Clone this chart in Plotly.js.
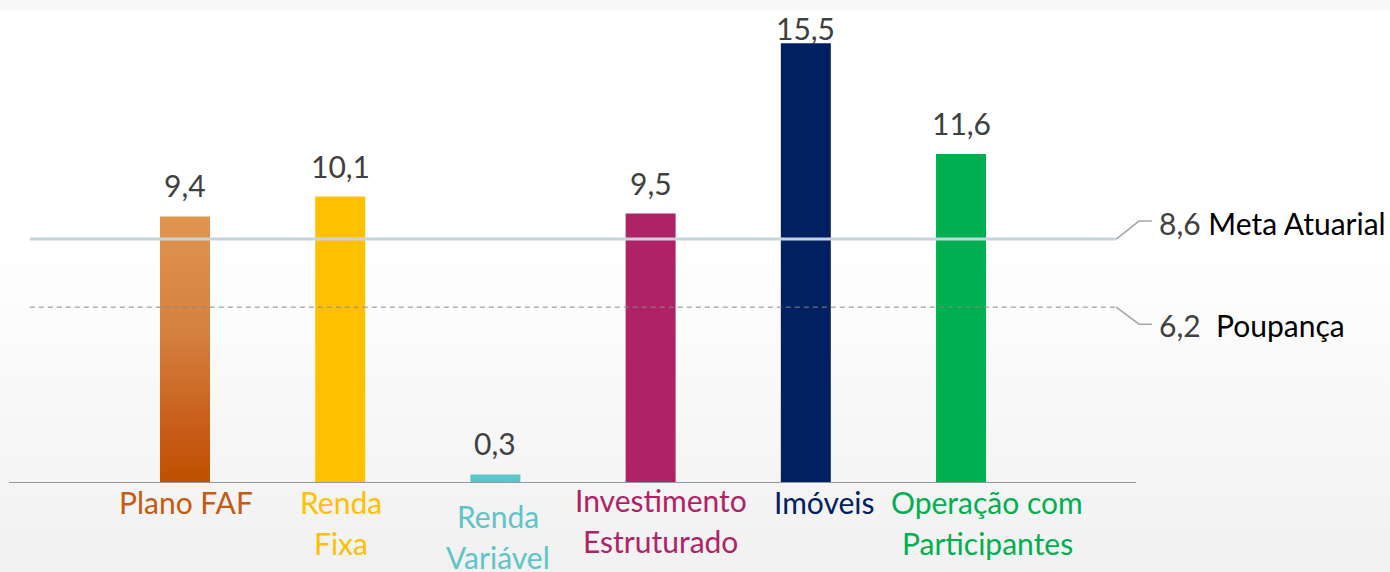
<!DOCTYPE html>
<html>
<head>
<meta charset="utf-8">
<script src="https://cdn.plot.ly/plotly-3.0.1.min.js"></script>
<style>
  html, body { margin: 0; padding: 0; }
  #chart {
    width: 1390px; height: 572px;
    background: linear-gradient(to bottom, #f9f9f9 0px, #f9f9f9 10px, #ffffff 11px, #ffffff 240px, #f3f3f3 520px, #f1f1f1 572px);
  }
</style>
</head>
<body>
<div id="chart"></div>
<script>
// ---- data ----
const categories = ['Plano FAF', 'Renda Fixa', 'Renda Variável', 'Investimento Estruturado', 'Imóveis', 'Operação com Participantes'];
const categoryLines = [['Plano FAF'], ['Renda', 'Fixa'], ['Renda', 'Variável'], ['Investimento', 'Estruturado'], ['Imóveis'], ['Operação com', 'Participantes']];
const values = [9.4, 10.1, 0.3, 9.5, 15.5, 11.6];
const barColors = ['#d4783a', '#ffc000', '#5ec4c8', '#b02266', '#002060', '#00b050'];
const labelColors = ['#c55a11', '#ffc000', '#5ec4c8', '#b02266', '#002060', '#00b050'];
const metaAtuarial = 8.6;
const metaLabel = 'Meta Atuarial';
const poupanca = 6.2;
const poupancaLabel = 'Poupança';

// ---- layout helpers ----
const FONT = 'Lato, "Open Sans", sans-serif';
const FS = 30;
const yMax = 16.5, plotTop = 15, plotBottom = 89, H = 572;
const pxPerUnit = (H - plotTop - plotBottom) / yMax;
const labelXShift = [1, 1, 3, 10, 19, 26];
const labelFirstLineY = [19, 19, 33, 17, 19, 19];
const lineGap = 41;
const fmt = v => v.toFixed(1).replace('.', ',');

const trace = {
  type: 'bar',
  x: categories,
  y: values,
  width: 0.322,
  marker: { color: barColors, line: { width: 0 } },
  hoverinfo: 'skip'
};

const annotations = [];
// value labels
values.forEach((v, i) => {
  const yv = Math.min(v + 31 / pxPerUnit, (H - plotBottom - 28) / pxPerUnit);
  annotations.push({
    x: categories[i], y: yv, xref: 'x', yref: 'y',
    text: fmt(v), showarrow: false, xanchor: 'center', yanchor: 'middle',
    font: { family: FONT, size: FS, color: '#404040' }
  });
});
// category labels
categoryLines.forEach((lines, i) => {
  lines.forEach((ln, j) => {
    annotations.push({
      x: categories[i], y: 0, xref: 'x', yref: 'y',
      xshift: labelXShift[i], yshift: -(labelFirstLineY[i] + j * lineGap),
      text: ln, showarrow: false, xanchor: 'center', yanchor: 'middle',
      font: { family: FONT, size: FS, color: labelColors[i] }
    });
  });
});

const lineEnd = 6.0, lineStart = -1.0;
const leadMid = 6.147, leadEnd = 6.23;
const metaLeadY = metaAtuarial + 18 / pxPerUnit;
const poupLeadY = poupanca - 17 / pxPerUnit;

annotations.push({
  x: leadEnd, y: metaAtuarial + 16 / pxPerUnit, xref: 'x', yref: 'y', xshift: 5,
  text: '<span style="color:#404040">' + fmt(metaAtuarial) + '</span> <span style="color:#000000">' + metaLabel + '</span>',
  showarrow: false, xanchor: 'left', yanchor: 'middle',
  font: { family: FONT, size: FS, color: '#000' }
});
annotations.push({
  x: leadEnd, y: poupanca - 18 / pxPerUnit, xref: 'x', yref: 'y', xshift: 5,
  text: '<span style="color:#404040">' + fmt(poupanca) + '</span>  <span style="color:#000000">' + poupancaLabel + '</span>',
  showarrow: false, xanchor: 'left', yanchor: 'middle',
  font: { family: FONT, size: FS, color: '#000' }
});

const shapes = [
  // baseline axis
  { type: 'line', xref: 'x', yref: 'y', x0: -1.134, x1: 6.128, y0: 0, y1: 0, line: { color: '#8f9aa3', width: 2 }, layer: 'above' },
  // meta atuarial line
  { type: 'line', xref: 'x', yref: 'y', x0: lineStart, x1: lineEnd, y0: metaAtuarial, y1: metaAtuarial, line: { color: '#c5d5dc', width: 3 }, layer: 'above' },
  { type: 'path', xref: 'x', yref: 'y',
    path: `M${lineEnd},${metaAtuarial} L${leadMid},${metaLeadY} L${leadEnd},${metaLeadY}`,
    line: { color: '#a6a6a6', width: 1.5 } },
  // poupanca line
  { type: 'line', xref: 'x', yref: 'y', x0: lineStart, x1: lineEnd, y0: poupanca, y1: poupanca, line: { color: '#8a8a8a', width: 1, dash: '5px,4px' }, layer: 'above' },
  { type: 'path', xref: 'x', yref: 'y',
    path: `M${lineEnd},${poupanca} L${leadMid},${poupLeadY} L${leadEnd},${poupLeadY}`,
    line: { color: '#a6a6a6', width: 1.5 } }
];

const layout = {
  width: 1390, height: 572,
  margin: { l: 0, r: 0, t: plotTop, b: plotBottom, pad: 0 },
  paper_bgcolor: 'rgba(0,0,0,0)', plot_bgcolor: 'rgba(0,0,0,0)',
  showlegend: false,
  xaxis: { type: 'category', range: [-1.192, 7.764], showticklabels: false, showgrid: false, zeroline: false, showline: false, ticks: '', fixedrange: true },
  yaxis: { range: [0, yMax], showticklabels: false, showgrid: false, zeroline: false, showline: false, ticks: '', fixedrange: true },
  annotations: annotations,
  shapes: shapes,
  font: { family: FONT }
};

Plotly.newPlot('chart', [trace], layout, { displayModeBar: false, staticPlot: true }).then(gd => {
  const svg = gd.querySelector('svg.main-svg');
  const defs = svg.querySelector('defs');
  const ns = 'http://www.w3.org/2000/svg';
  const grad = document.createElementNS(ns, 'linearGradient');
  grad.setAttribute('id', 'fafGrad');
  grad.setAttribute('x1', '0'); grad.setAttribute('y1', '0');
  grad.setAttribute('x2', '0'); grad.setAttribute('y2', '1');
  [['0', '#e0964f'], ['0.45', '#d47f3e'], ['0.8', '#c75c18'], ['1', '#c05000']].forEach(([o, c]) => {
    const s = document.createElementNS(ns, 'stop');
    s.setAttribute('offset', o); s.setAttribute('stop-color', c);
    grad.appendChild(s);
  });
  defs.appendChild(grad);
  const p = gd.querySelector('.barlayer .point path');
  if (p) p.style.fill = 'url(#fafGrad)';
});
</script>
</body>
</html>
